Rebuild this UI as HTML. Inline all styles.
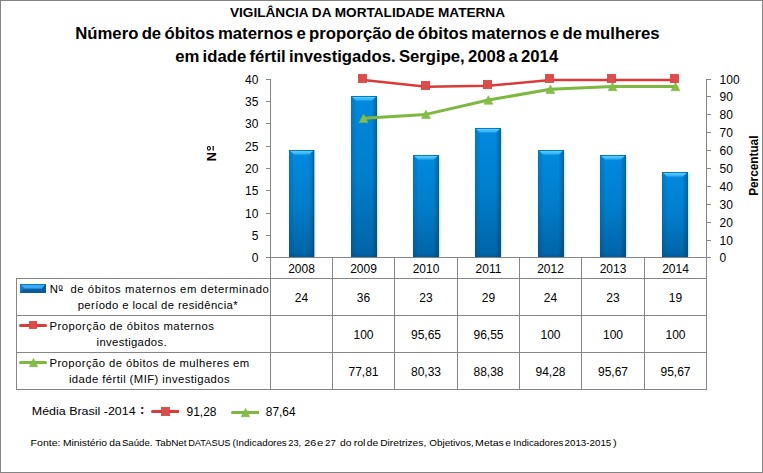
<!DOCTYPE html>
<html><head><meta charset="utf-8"><title>Vigilância da Mortalidade Materna</title>
<style>html,body{margin:0;padding:0;background:#fff;overflow:hidden}svg{display:block}text{font-family:"Liberation Sans",sans-serif;fill:#000;white-space:pre}.b{font-weight:bold}</style></head><body>
<svg width="763" height="473" viewBox="0 0 763 473">
<defs>
<linearGradient id="bv" x1="0" y1="0" x2="0" y2="1"><stop offset="0" stop-color="#008AE0"/><stop offset="0.5" stop-color="#007ECB"/><stop offset="1" stop-color="#0063A6"/></linearGradient>
<linearGradient id="bh" x1="0" y1="0" x2="1" y2="0"><stop offset="0" stop-color="#012" stop-opacity="0.2"/><stop offset="0.04" stop-color="#012" stop-opacity="0.1"/><stop offset="0.14" stop-color="#012" stop-opacity="0.07"/><stop offset="0.2" stop-color="#012" stop-opacity="0"/><stop offset="0.8" stop-color="#012" stop-opacity="0"/><stop offset="0.86" stop-color="#012" stop-opacity="0.13"/><stop offset="0.95" stop-color="#012" stop-opacity="0.2"/><stop offset="1" stop-color="#012" stop-opacity="0.5"/></linearGradient>
<linearGradient id="lk" x1="0" y1="0" x2="0" y2="1"><stop offset="0" stop-color="#3BA3E6"/><stop offset="0.45" stop-color="#1180D0"/><stop offset="1" stop-color="#0A64A8"/></linearGradient>
<filter id="sh" x="-30%" y="-5%" width="160%" height="110%"><feGaussianBlur stdDeviation="1.2"/></filter>
<linearGradient id="hl" x1="0" y1="0" x2="0" y2="1"><stop offset="0" stop-color="#58CEFF" stop-opacity="1"/><stop offset="0.55" stop-color="#45BDFA" stop-opacity="0.9"/><stop offset="1" stop-color="#2CA4EE" stop-opacity="0.35"/></linearGradient>
</defs>
<rect x="0" y="0" width="763" height="473" fill="#fff"/>
<rect x="0.5" y="0.5" width="762" height="472" fill="none" stroke="#848484" stroke-width="1"/>
<text x="230" y="16.9" font-size="13" class="b" textLength="275" lengthAdjust="spacingAndGlyphs" xml:space="preserve">VIGILÂNCIA DA MORTALIDADE MATERNA</text>
<text x="75.2" y="39.3" font-size="16.2" class="b" textLength="584.4" lengthAdjust="spacingAndGlyphs" xml:space="preserve" word-spacing="-1.3">Número de óbitos maternos e proporção de óbitos maternos e de mulheres</text>
<text x="175.2" y="62.4" font-size="16.2" class="b" textLength="383" lengthAdjust="spacingAndGlyphs" xml:space="preserve" word-spacing="-1.3">em idade fértil investigados. Sergipe, 2008 a 2014</text>
<rect x="289.5" y="151" width="25.7" height="106" fill="#000" opacity="0.17" filter="url(#sh)"/>
<rect x="289" y="150" width="25.2" height="107" fill="url(#bv)"/>
<rect x="289" y="150" width="25.2" height="107" fill="url(#bh)"/>
<polygon points="290.2,151 313.0,151 308.59999999999997,155.2 294.6,155.2" fill="url(#hl)"/>
<rect x="289" y="150" width="25.2" height="1" fill="#0A5FA3" opacity="0.3"/>
<polygon points="289,257 314.2,257 311.7,254.5 291.5,254.5" fill="#063F6E" opacity="0.14"/>
<rect x="351.5" y="97" width="26.4" height="160" fill="#000" opacity="0.17" filter="url(#sh)"/>
<rect x="351" y="96" width="25.9" height="161" fill="url(#bv)"/>
<rect x="351" y="96" width="25.9" height="161" fill="url(#bh)"/>
<polygon points="352.2,97 375.7,97 371.29999999999995,101.2 356.6,101.2" fill="url(#hl)"/>
<rect x="351" y="96" width="25.9" height="1" fill="#0A5FA3" opacity="0.3"/>
<polygon points="351,257 376.9,257 374.4,254.5 353.5,254.5" fill="#063F6E" opacity="0.14"/>
<rect x="413.5" y="156" width="26.4" height="101" fill="#000" opacity="0.17" filter="url(#sh)"/>
<rect x="413" y="155" width="25.9" height="102" fill="url(#bv)"/>
<rect x="413" y="155" width="25.9" height="102" fill="url(#bh)"/>
<polygon points="414.2,156 437.7,156 433.29999999999995,160.2 418.6,160.2" fill="url(#hl)"/>
<rect x="413" y="155" width="25.9" height="1" fill="#0A5FA3" opacity="0.3"/>
<polygon points="413,257 438.9,257 436.4,254.5 415.5,254.5" fill="#063F6E" opacity="0.14"/>
<rect x="475.5" y="129" width="26.4" height="128" fill="#000" opacity="0.17" filter="url(#sh)"/>
<rect x="475" y="128" width="25.9" height="129" fill="url(#bv)"/>
<rect x="475" y="128" width="25.9" height="129" fill="url(#bh)"/>
<polygon points="476.2,129 499.7,129 495.29999999999995,133.2 480.6,133.2" fill="url(#hl)"/>
<rect x="475" y="128" width="25.9" height="1" fill="#0A5FA3" opacity="0.3"/>
<polygon points="475,257 500.9,257 498.4,254.5 477.5,254.5" fill="#063F6E" opacity="0.14"/>
<rect x="538.5" y="151" width="26.4" height="106" fill="#000" opacity="0.17" filter="url(#sh)"/>
<rect x="538" y="150" width="25.9" height="107" fill="url(#bv)"/>
<rect x="538" y="150" width="25.9" height="107" fill="url(#bh)"/>
<polygon points="539.2,151 562.6999999999999,151 558.3,155.2 543.6,155.2" fill="url(#hl)"/>
<rect x="538" y="150" width="25.9" height="1" fill="#0A5FA3" opacity="0.3"/>
<polygon points="538,257 563.9,257 561.4,254.5 540.5,254.5" fill="#063F6E" opacity="0.14"/>
<rect x="600.5" y="156" width="26.4" height="101" fill="#000" opacity="0.17" filter="url(#sh)"/>
<rect x="600" y="155" width="25.9" height="102" fill="url(#bv)"/>
<rect x="600" y="155" width="25.9" height="102" fill="url(#bh)"/>
<polygon points="601.2,156 624.6999999999999,156 620.3,160.2 605.6,160.2" fill="url(#hl)"/>
<rect x="600" y="155" width="25.9" height="1" fill="#0A5FA3" opacity="0.3"/>
<polygon points="600,257 625.9,257 623.4,254.5 602.5,254.5" fill="#063F6E" opacity="0.14"/>
<rect x="662.5" y="173" width="26.4" height="84" fill="#000" opacity="0.17" filter="url(#sh)"/>
<rect x="662" y="172" width="25.9" height="85" fill="url(#bv)"/>
<rect x="662" y="172" width="25.9" height="85" fill="url(#bh)"/>
<polygon points="663.2,173 686.6999999999999,173 682.3,177.2 667.6,177.2" fill="url(#hl)"/>
<rect x="662" y="172" width="25.9" height="1" fill="#0A5FA3" opacity="0.3"/>
<polygon points="662,257 687.9,257 685.4,254.5 664.5,254.5" fill="#063F6E" opacity="0.14"/>
<g fill="#868686" shape-rendering="crispEdges">
<rect x="270" y="79" width="1" height="311"/>
<rect x="706" y="79" width="1" height="311"/>
<rect x="332" y="257" width="1" height="133"/>
<rect x="394" y="257" width="1" height="133"/>
<rect x="457" y="257" width="1" height="133"/>
<rect x="519" y="257" width="1" height="133"/>
<rect x="581" y="257" width="1" height="133"/>
<rect x="644" y="257" width="1" height="133"/>
<rect x="16" y="278" width="1" height="112"/>
<rect x="266" y="257" width="445" height="1"/>
<rect x="16" y="278" width="691" height="1"/>
<rect x="16" y="315" width="691" height="1"/>
<rect x="16" y="352" width="691" height="1"/>
<rect x="16" y="389" width="691" height="1"/>
<rect x="266" y="79" width="4" height="1"/>
<rect x="266" y="101" width="4" height="1"/>
<rect x="266" y="123" width="4" height="1"/>
<rect x="266" y="146" width="4" height="1"/>
<rect x="266" y="168" width="4" height="1"/>
<rect x="266" y="190" width="4" height="1"/>
<rect x="266" y="213" width="4" height="1"/>
<rect x="266" y="235" width="4" height="1"/>
<rect x="707" y="79" width="4" height="1"/>
<rect x="707" y="96" width="4" height="1"/>
<rect x="707" y="114" width="4" height="1"/>
<rect x="707" y="132" width="4" height="1"/>
<rect x="707" y="150" width="4" height="1"/>
<rect x="707" y="168" width="4" height="1"/>
<rect x="707" y="186" width="4" height="1"/>
<rect x="707" y="204" width="4" height="1"/>
<rect x="707" y="222" width="4" height="1"/>
<rect x="707" y="240" width="4" height="1"/>
</g>
<text x="258.4" y="83.9" font-size="12" text-anchor="end" xml:space="preserve">40</text>
<text x="258.4" y="105.9" font-size="12" text-anchor="end" xml:space="preserve">35</text>
<text x="258.4" y="127.9" font-size="12" text-anchor="end" xml:space="preserve">30</text>
<text x="258.4" y="150.9" font-size="12" text-anchor="end" xml:space="preserve">25</text>
<text x="258.4" y="172.9" font-size="12" text-anchor="end" xml:space="preserve">20</text>
<text x="258.4" y="194.9" font-size="12" text-anchor="end" xml:space="preserve">15</text>
<text x="258.4" y="217.9" font-size="12" text-anchor="end" xml:space="preserve">10</text>
<text x="258.4" y="239.9" font-size="12" text-anchor="end" xml:space="preserve">5</text>
<text x="258.4" y="261.9" font-size="12" text-anchor="end" xml:space="preserve">0</text>
<text x="719.6" y="83.9" font-size="12" xml:space="preserve">100</text>
<text x="719.6" y="100.9" font-size="12" xml:space="preserve">90</text>
<text x="719.6" y="118.9" font-size="12" xml:space="preserve">80</text>
<text x="719.6" y="136.9" font-size="12" xml:space="preserve">70</text>
<text x="719.6" y="154.9" font-size="12" xml:space="preserve">60</text>
<text x="719.6" y="172.9" font-size="12" xml:space="preserve">50</text>
<text x="719.6" y="190.9" font-size="12" xml:space="preserve">40</text>
<text x="719.6" y="208.9" font-size="12" xml:space="preserve">30</text>
<text x="719.6" y="226.9" font-size="12" xml:space="preserve">20</text>
<text x="719.6" y="244.9" font-size="12" xml:space="preserve">10</text>
<text x="719.6" y="261.9" font-size="12" xml:space="preserve">0</text>
<text transform="translate(216.4,161.2) rotate(-90)" font-size="12.8" class="b">N</text>
<ellipse cx="208.9" cy="148.3" rx="1.5" ry="1.8" fill="none" stroke="#000" stroke-width="1.15"/>
<rect x="212.6" y="146" width="1.2" height="4.6" fill="#000"/>
<text transform="translate(757.9,195.8) rotate(-90)" font-size="12.4" class="b" textLength="60.2" lengthAdjust="spacingAndGlyphs">Percentual</text>
<text x="301.5" y="273" font-size="12" text-anchor="middle" xml:space="preserve">2008</text>
<text x="301.5" y="301.9" font-size="12" text-anchor="middle" xml:space="preserve">24</text>
<text x="363.5" y="273" font-size="12" text-anchor="middle" xml:space="preserve">2009</text>
<text x="363.5" y="301.9" font-size="12" text-anchor="middle" xml:space="preserve">36</text>
<text x="363.5" y="338.9" font-size="12" text-anchor="middle" xml:space="preserve">100</text>
<text x="363.5" y="375.7" font-size="12" text-anchor="middle" xml:space="preserve">77,81</text>
<text x="426.0" y="273" font-size="12" text-anchor="middle" xml:space="preserve">2010</text>
<text x="426.0" y="301.9" font-size="12" text-anchor="middle" xml:space="preserve">23</text>
<text x="426.0" y="338.9" font-size="12" text-anchor="middle" xml:space="preserve">95,65</text>
<text x="426.0" y="375.7" font-size="12" text-anchor="middle" xml:space="preserve">80,33</text>
<text x="488.5" y="273" font-size="12" text-anchor="middle" xml:space="preserve">2011</text>
<text x="488.5" y="301.9" font-size="12" text-anchor="middle" xml:space="preserve">29</text>
<text x="488.5" y="338.9" font-size="12" text-anchor="middle" xml:space="preserve">96,55</text>
<text x="488.5" y="375.7" font-size="12" text-anchor="middle" xml:space="preserve">88,38</text>
<text x="550.5" y="273" font-size="12" text-anchor="middle" xml:space="preserve">2012</text>
<text x="550.5" y="301.9" font-size="12" text-anchor="middle" xml:space="preserve">24</text>
<text x="550.5" y="338.9" font-size="12" text-anchor="middle" xml:space="preserve">100</text>
<text x="550.5" y="375.7" font-size="12" text-anchor="middle" xml:space="preserve">94,28</text>
<text x="613.0" y="273" font-size="12" text-anchor="middle" xml:space="preserve">2013</text>
<text x="613.0" y="301.9" font-size="12" text-anchor="middle" xml:space="preserve">23</text>
<text x="613.0" y="338.9" font-size="12" text-anchor="middle" xml:space="preserve">100</text>
<text x="613.0" y="375.7" font-size="12" text-anchor="middle" xml:space="preserve">95,67</text>
<text x="675.5" y="273" font-size="12" text-anchor="middle" xml:space="preserve">2014</text>
<text x="675.5" y="301.9" font-size="12" text-anchor="middle" xml:space="preserve">19</text>
<text x="675.5" y="338.9" font-size="12" text-anchor="middle" xml:space="preserve">100</text>
<text x="675.5" y="375.7" font-size="12" text-anchor="middle" xml:space="preserve">95,67</text>
<polyline points="363.5,118.3 426,114.39999999999999 488.4,100.0 550.4,89.3 612.5,86.5 675.5,86.5" fill="none" stroke="#7DB83F" stroke-width="3" stroke-linejoin="round" stroke-linecap="round"/>
<polygon points="363.5,114.0 367.9,122.5 359.1,122.5" fill="#86BC48" stroke="#7DB83F" stroke-width="0.6"/>
<polygon points="426,110.1 430.4,118.6 421.6,118.6" fill="#86BC48" stroke="#7DB83F" stroke-width="0.6"/>
<polygon points="488.4,95.7 492.79999999999995,104.2 484.0,104.2" fill="#86BC48" stroke="#7DB83F" stroke-width="0.6"/>
<polygon points="550.4,85.0 554.8,93.5 546.0,93.5" fill="#86BC48" stroke="#7DB83F" stroke-width="0.6"/>
<polygon points="612.5,82.2 616.9,90.7 608.1,90.7" fill="#86BC48" stroke="#7DB83F" stroke-width="0.6"/>
<polygon points="675.5,82.2 679.9,90.7 671.1,90.7" fill="#86BC48" stroke="#7DB83F" stroke-width="0.6"/>
<polyline points="363.5,80 426.5,86.7 488.5,85.7 550.5,80 612.5,80 675.5,80" fill="none" stroke="#DA3B38" stroke-width="2.5" stroke-linejoin="round" stroke-linecap="round"/>
<rect x="358.35" y="74.35" width="8.3" height="8.3" fill="#DC4C4A" stroke="#DA3B38" stroke-width="0.7"/>
<rect x="421.35" y="81.35" width="8.3" height="8.3" fill="#DC4C4A" stroke="#DA3B38" stroke-width="0.7"/>
<rect x="483.35" y="80.35" width="8.3" height="8.3" fill="#DC4C4A" stroke="#DA3B38" stroke-width="0.7"/>
<rect x="545.35" y="74.35" width="8.3" height="8.3" fill="#DC4C4A" stroke="#DA3B38" stroke-width="0.7"/>
<rect x="607.35" y="74.35" width="8.3" height="8.3" fill="#DC4C4A" stroke="#DA3B38" stroke-width="0.7"/>
<rect x="670.35" y="74.35" width="8.3" height="8.3" fill="#DC4C4A" stroke="#DA3B38" stroke-width="0.7"/>
<rect x="20" y="284" width="26" height="9" fill="#0C68AE"/>
<polygon points="20,284 24.5,288.5 24.5,289.5 20,293" fill="#1079C8"/>
<polygon points="46,284 41.5,288.5 41.5,289.5 46,293" fill="#0A5896"/>
<polygon points="20,293 46,293 42.5,289.5 23.5,289.5" fill="#0A5A9C"/>
<polygon points="20.6,284.6 45.4,284.6 41.5,288.6 24.5,288.6" fill="#38ACF3"/>
<rect x="20" y="284" width="26" height="0.8" fill="#0F6FB8" opacity="0.8"/>
<rect x="59.2" y="290" width="3.8" height="0.9" fill="#111"/>
<line x1="20.5" y1="325.5" x2="45.5" y2="325.5" stroke="#DA3B38" stroke-width="3" stroke-linecap="round"/>
<rect x="29.35" y="321.35" width="7.3" height="7.3" fill="#DC4C4A" stroke="#DA3B38" stroke-width="0.7"/>
<line x1="20.5" y1="362.5" x2="45.5" y2="362.5" stroke="#7DB83F" stroke-width="3" stroke-linecap="round"/>
<polygon points="33.5,358.4 37.6,366.65 29.4,366.65" fill="#86BC48" stroke="#7DB83F" stroke-width="0.7" stroke-linejoin="miter"/>
<text x="49.75" y="292.6" font-size="11.3" textLength="219.1" lengthAdjust="spacing" xml:space="preserve">Nº  de óbitos maternos em determinado</text>
<text x="77.7" y="309.1" font-size="11.3" textLength="159.9" lengthAdjust="spacing" xml:space="preserve">período e local de residência*</text>
<text x="49.4" y="330.4" font-size="11.3" textLength="164.6" lengthAdjust="spacing" xml:space="preserve">Proporção de óbitos maternos</text>
<text x="96.6" y="346.1" font-size="11.3" textLength="70" lengthAdjust="spacing" xml:space="preserve">investigados.</text>
<text x="49.4" y="367.2" font-size="11.3" textLength="199.8" lengthAdjust="spacing" xml:space="preserve">Proporção de óbitos de mulheres em</text>
<text x="68.9" y="382.9" font-size="11.3" textLength="160.8" lengthAdjust="spacing" xml:space="preserve">idade fértil (MIF) investigados</text>
<text x="31.8" y="415" font-size="11.7" textLength="103.8" lengthAdjust="spacingAndGlyphs" xml:space="preserve">Média Brasil -2014</text>
<rect x="141.3" y="407" width="2" height="2" fill="#222"/><rect x="141.3" y="412" width="2" height="2" fill="#222"/>
<line x1="152.5" y1="411.5" x2="179" y2="411.5" stroke="#DA3B38" stroke-width="3"/>
<circle cx="152.5" cy="411.5" r="1.5" fill="#DA3B38"/>
<rect x="161.35" y="407.35" width="8.3" height="8.3" fill="#DC4C4A" stroke="#DA3B38" stroke-width="0.7"/>
<text x="186.5" y="415.6" font-size="12" textLength="30" lengthAdjust="spacingAndGlyphs" xml:space="preserve">91,28</text>
<line x1="232.5" y1="412.5" x2="259" y2="412.5" stroke="#7DB83F" stroke-width="3"/>
<circle cx="232.5" cy="412.5" r="1.5" fill="#7DB83F"/>
<polygon points="245.5,408.4 249.6,416.65 241.4,416.65" fill="#86BC48" stroke="#7DB83F" stroke-width="0.7"/>
<text x="265.8" y="415.6" font-size="12" textLength="29.8" lengthAdjust="spacingAndGlyphs" xml:space="preserve">87,64</text>
<text x="30.6" y="445.7" font-size="9.8" textLength="29.9" lengthAdjust="spacingAndGlyphs">Fonte:</text>
<text x="62.9" y="445.7" font-size="9.8" textLength="44.2" lengthAdjust="spacingAndGlyphs">Ministério</text>
<text x="109.3" y="445.7" font-size="9.8" textLength="11.5" lengthAdjust="spacingAndGlyphs">da</text>
<text x="121.9" y="445.7" font-size="9.8" textLength="30.6" lengthAdjust="spacingAndGlyphs">Saúde.</text>
<text x="155.2" y="445.7" font-size="9.8" textLength="31.4" lengthAdjust="spacingAndGlyphs">TabNet</text>
<text x="188.2" y="445.7" font-size="9.8" textLength="42.3" lengthAdjust="spacingAndGlyphs">DATASUS</text>
<text x="232.6" y="445.7" font-size="9.8" textLength="54.2" lengthAdjust="spacingAndGlyphs">(Indicadores</text>
<text x="288.2" y="445.7" font-size="9.8" textLength="13.0" lengthAdjust="spacingAndGlyphs">23,</text>
<text x="304.2" y="445.7" font-size="9.8" textLength="12.0" lengthAdjust="spacingAndGlyphs">26</text>
<text x="317.0" y="445.7" font-size="9.8" textLength="6.3" lengthAdjust="spacingAndGlyphs">e</text>
<text x="325.1" y="445.7" font-size="9.8" textLength="10.7" lengthAdjust="spacingAndGlyphs">27</text>
<text x="340.1" y="445.7" font-size="9.8" textLength="11.5" lengthAdjust="spacingAndGlyphs">do</text>
<text x="353.7" y="445.7" font-size="9.8" textLength="11.8" lengthAdjust="spacingAndGlyphs">rol</text>
<text x="366.8" y="445.7" font-size="9.8" textLength="11.5" lengthAdjust="spacingAndGlyphs">de</text>
<text x="380.2" y="445.7" font-size="9.8" textLength="46.1" lengthAdjust="spacingAndGlyphs">Diretrizes,</text>
<text x="429.2" y="445.7" font-size="9.8" textLength="44.5" lengthAdjust="spacingAndGlyphs">Objetivos,</text>
<text x="475.1" y="445.7" font-size="9.8" textLength="28.8" lengthAdjust="spacingAndGlyphs">Metas</text>
<text x="505.2" y="445.7" font-size="9.8" textLength="5.7" lengthAdjust="spacingAndGlyphs">e</text>
<text x="513.3" y="445.7" font-size="9.8" textLength="50.1" lengthAdjust="spacingAndGlyphs">Indicadores</text>
<text x="564.5" y="445.7" font-size="9.8" textLength="46.8" lengthAdjust="spacingAndGlyphs">2013-2015</text>
<text x="612.9" y="445.7" font-size="9.8" textLength="3.7" lengthAdjust="spacingAndGlyphs">)</text>
</svg></body></html>
